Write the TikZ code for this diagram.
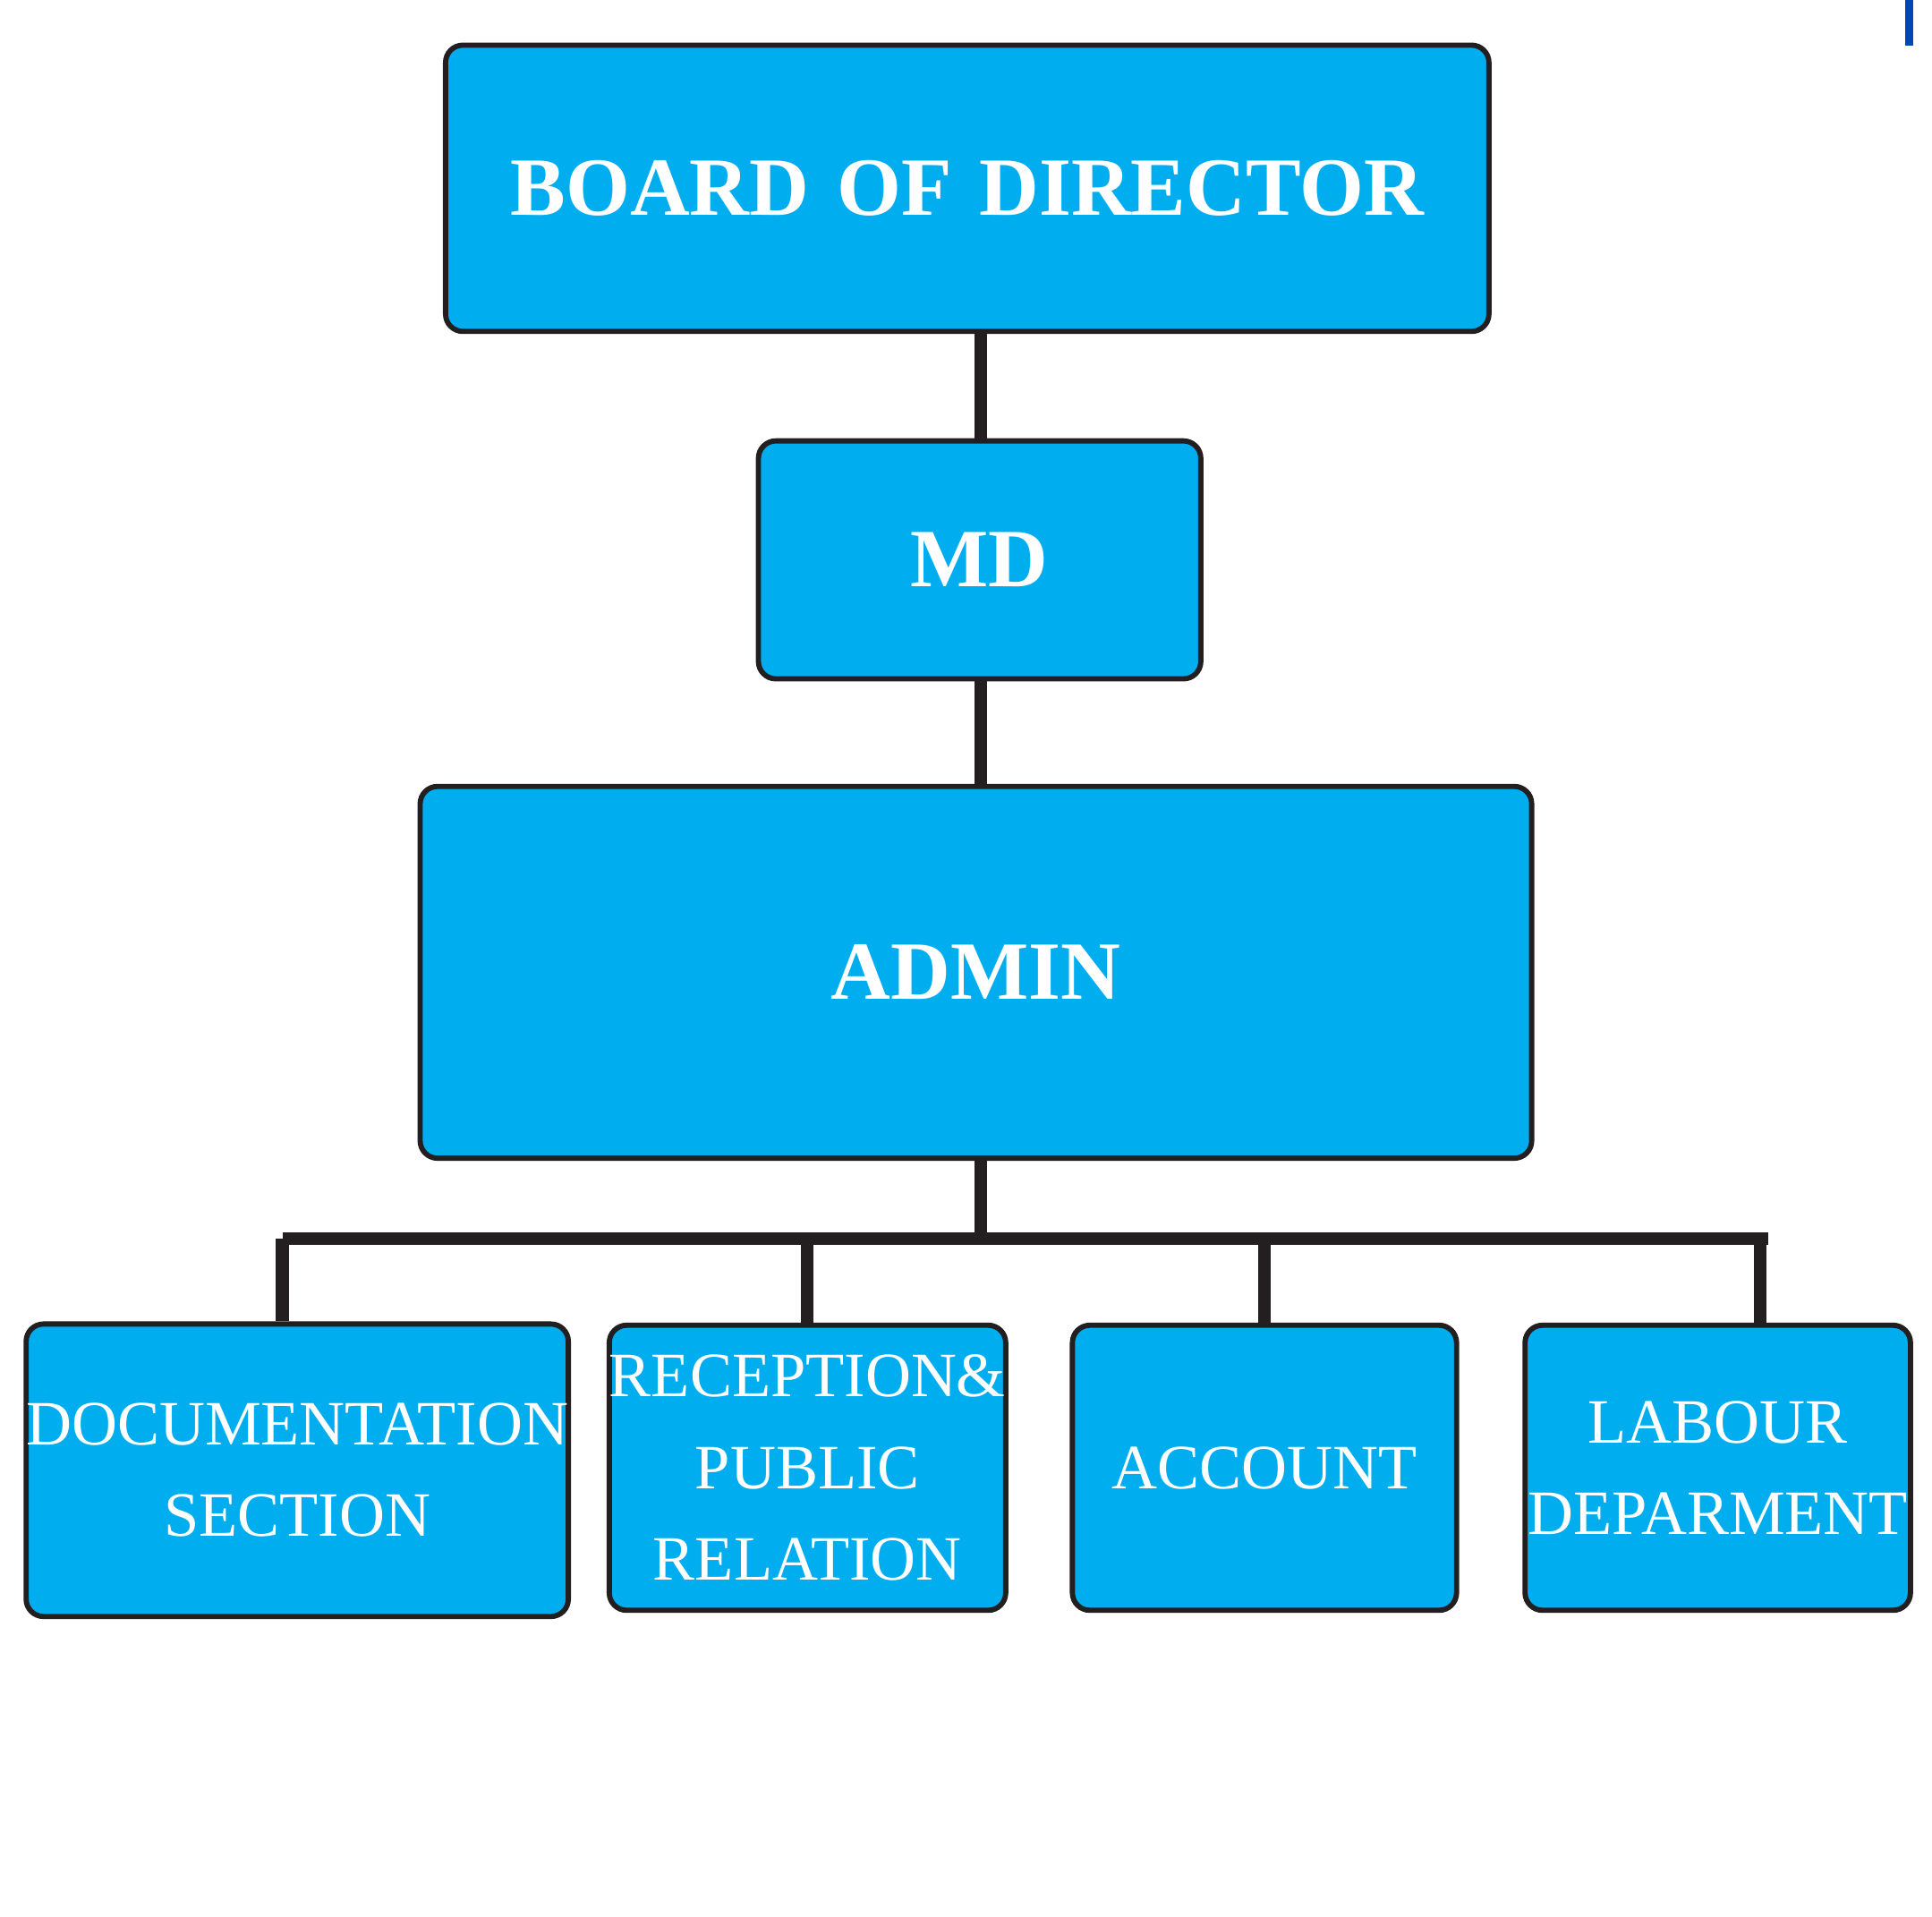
\documentclass[tikz,border=0pt]{standalone}
\usepackage{fontspec}
\setmainfont{Liberation Serif}
\definecolor{boxblue}{HTML}{00AEEF}
\definecolor{linegray}{HTML}{231F20}
\tikzset{
  unit/.style={draw=linegray, line width=1.2pt, fill=boxblue, rounded corners=4pt,
    text=white, align=center, inner sep=0pt},
  head/.style={unit, font=\fontsize{19}{22}\selectfont\bfseries},
  dept/.style={unit, font=\fontsize{14.5}{21}\selectfont},
  link/.style={draw=linegray, line width=2.9pt}
}
\begin{document}
\begin{tikzpicture}[x=0.01cm, y=-0.01cm]
  \useasboundingbox (0,0) rectangle (1560,1547);

  % upper levels
  \node[head, minimum width=842\pgflinewidth, text width=8.3cm, minimum width=8.42cm, minimum height=2.31cm] (board) at (781,152) {BOARD OF DIRECTOR};
  \node[head, minimum width=3.57cm, minimum height=1.92cm] (md) at (791,452) {MD};
  \node[head, minimum width=8.97cm, minimum height=3.0cm] (admin) at (788,785) {ADMIN};

  % departments
  \node[dept, minimum width=4.06cm, minimum height=2.36cm] (doc) at (240,1187) {DOCUMENTATION\\SECTION};
  \node[dept, minimum width=3.11cm, minimum height=2.30cm] (rec) at (652,1185) {RECEPTION\&\\PUBLIC\\RELATION};
  \node[dept, minimum width=3.10cm, minimum height=2.30cm] (acc) at (1021,1185) {ACCOUNT};
  \node[dept, minimum width=3.11cm, minimum height=2.30cm] (lab) at (1387,1185) {LABOUR\\DEPARMENT};

  \coordinate (busL) at (228,1000);
  \coordinate (busR) at (1428,1000);
  \coordinate (labTop) at (1421,1070);

  % connectors
  \draw[link] (board.south -| 792,0) -- (md.north -| 792,0);
  \draw[link] (md.south -| 792,0) -- (admin.north -| 792,0);
  \draw[link] (admin.south -| 792,0) -- (792,1000);
  \draw[link] (busL) -- (busR);
  \draw[link] (busL) -- (busL |- doc.north);
  \draw[link] (rec.north |- busL) -- (rec.north);
  \draw[link] (acc.north |- busL) -- (acc.north);
  \draw[link] (labTop |- busL) -- (labTop);

  % mark at top right
  \fill[blue!60!cyan!70!black] (1538,0) rectangle (1545,37);
\end{tikzpicture}
\end{document}
